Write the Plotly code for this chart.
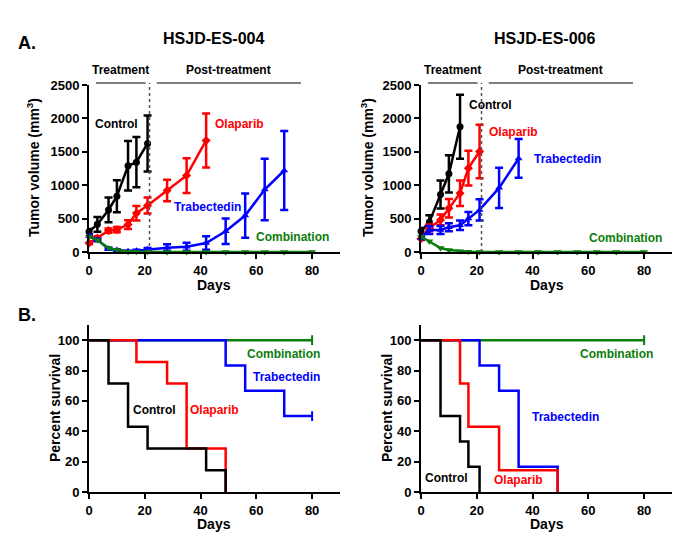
import plotly.graph_objects as go

FONT = "Liberation Sans, Arial, sans-serif"
BLACK = "#000000"
RED = "#ff0000"
BLUE = "#0000ff"
GREEN = "#0b7d0b"

# ---- A. tumor volume, HSJD-ES-004 ----
days_ctrl_004 = [0, 3, 7, 10, 14, 17, 21]
ctrl_004 = [305, 415, 630, 835, 1290, 1345, 1625]
ctrl_004_err = [40, 110, 185, 240, 370, 375, 420]

days_ola_004 = [0, 3, 7, 10, 14, 17, 21, 28, 35, 42]
ola_004 = [135, 210, 320, 335, 410, 580, 695, 920, 1145, 1670]
ola_004_err = [20, 25, 30, 40, 65, 110, 120, 160, 260, 405]

days_tra_004 = [0, 3, 7, 10, 14, 17, 21, 28, 35, 42, 49, 56, 63, 70]
tra_004 = [240, 180, 50, 30, 10, 20, 40, 65, 80, 135, 310, 545, 935, 1220]
tra_004_err = [20, 20, 15, 10, 10, 15, 20, 50, 60, 100, 190, 330, 460, 590]

days_com_004 = [0, 3, 7, 10, 14, 17, 21, 28, 35, 42, 49, 56, 63, 70, 80]
com_004 = [230, 180, 60, 30, 5, 5, 5, 0, 0, 0, 0, 0, 0, 0, 0]

# ---- A. tumor volume, HSJD-ES-006 ----
days_ctrl_006 = [0, 3, 7, 10, 14]
ctrl_006 = [310, 450, 860, 1170, 1875]
ctrl_006_err = [50, 100, 210, 280, 480]

days_ola_006 = [0, 3, 7, 10, 14, 17, 21]
ola_006 = [200, 360, 480, 655, 880, 1255, 1505]
ola_006_err = [20, 50, 80, 140, 190, 260, 400]

days_tra_006 = [0, 3, 7, 10, 14, 17, 21, 28, 35]
tra_006 = [210, 330, 330, 370, 400, 500, 630, 960, 1400]
tra_006_err = [20, 60, 60, 60, 70, 100, 160, 300, 290]

days_com_006 = [0, 3, 7, 10, 14, 17, 21, 28, 35, 42, 49, 56, 63, 70, 80]
com_006 = [230, 160, 60, 30, 10, 5, 0, 0, 0, 0, 0, 0, 0, 0, 0]

# ---- B. survival (Kaplan-Meier steps) ----
surv_ctrl_004_x = [0, 7, 14, 21, 42, 49]
surv_ctrl_004_y = [100, 71.4, 42.9, 28.6, 14.3, 0]
surv_ola_004_x = [0, 17, 28, 35, 49]
surv_ola_004_y = [100, 85.7, 71.4, 28.6, 0]
surv_tra_004_x = [0, 49, 56, 70, 80]
surv_tra_004_y = [100, 83.3, 66.7, 50, 50]
surv_com_004_x = [0, 80]
surv_com_004_y = [100, 100]

surv_ctrl_006_x = [0, 7, 14, 17, 21]
surv_ctrl_006_y = [100, 50, 33.3, 16.7, 0]
surv_ola_006_x = [0, 14, 17, 28, 49]
surv_ola_006_y = [100, 71.4, 42.9, 14.3, 0]
surv_tra_006_x = [0, 21, 28, 35, 49]
surv_tra_006_y = [100, 83.3, 66.7, 16.7, 0]
surv_com_006_x = [0, 80]
surv_com_006_y = [100, 100]

# treatment / post-treatment bars (days)
treat_days = [2.5, 20.3]
post_days = [24.3, 76]
dotted_day = 21.7

W, H = 700, 537
OFF = 8  # the page body adds an 8px margin; shift layout to compensate


def px(x):
    return (x - OFF) / W


def py(y):
    return 1 - (y - OFF) / H


fig = go.Figure()


def growth(x, y, err, color, symbol, xa, ya):
    fig.add_trace(go.Scatter(
        x=x, y=y, mode="lines+markers", xaxis=xa, yaxis=ya,
        line=dict(color=color, width=2.5),
        marker=dict(symbol=symbol, size=7, color=color),
        error_y=dict(type="data", array=err, color=color, thickness=2.5, width=4)
        if err is not None else None,
        cliponaxis=False, showlegend=False,
    ))


def survival(x, y, color, xa, ya, censor=False):
    fig.add_trace(go.Scatter(
        x=x, y=y, mode="lines", line=dict(color=color, width=2.5, shape="hv"),
        xaxis=xa, yaxis=ya, cliponaxis=False, showlegend=False,
    ))
    if censor:
        fig.add_trace(go.Scatter(
            x=[x[-1]], y=[y[-1]], mode="markers", xaxis=xa, yaxis=ya,
            marker=dict(symbol="line-ns", size=7, line=dict(color=color, width=2)),
            cliponaxis=False, showlegend=False,
        ))


growth(days_ctrl_004, ctrl_004, ctrl_004_err, BLACK, "circle", "x", "y")
growth(days_ola_004, ola_004, ola_004_err, RED, "diamond", "x", "y")
growth(days_tra_004, tra_004, tra_004_err, BLUE, "triangle-up", "x", "y")
growth(days_com_004, com_004, None, GREEN, "triangle-down", "x", "y")

growth(days_ctrl_006, ctrl_006, ctrl_006_err, BLACK, "circle", "x2", "y2")
growth(days_ola_006, ola_006, ola_006_err, RED, "diamond", "x2", "y2")
growth(days_tra_006, tra_006, tra_006_err, BLUE, "triangle-up", "x2", "y2")
growth(days_com_006, com_006, None, GREEN, "triangle-down", "x2", "y2")

survival(surv_com_004_x, surv_com_004_y, GREEN, "x3", "y3", censor=True)
survival(surv_tra_004_x, surv_tra_004_y, BLUE, "x3", "y3", censor=True)
survival(surv_ola_004_x, surv_ola_004_y, RED, "x3", "y3")
survival(surv_ctrl_004_x, surv_ctrl_004_y, BLACK, "x3", "y3")

survival(surv_com_006_x, surv_com_006_y, GREEN, "x4", "y4", censor=True)
survival(surv_tra_006_x, surv_tra_006_y, BLUE, "x4", "y4")
survival(surv_ola_006_x, surv_ola_006_y, RED, "x4", "y4")
survival(surv_ctrl_006_x, surv_ctrl_006_y, BLACK, "x4", "y4")

tickfont = dict(family=FONT, size=13, color="black", weight="bold")
xbase = dict(range=[0, 90], tickvals=[0, 20, 40, 60, 80], showgrid=False, zeroline=False,
             showline=True, linecolor="black", linewidth=2, ticks="outside",
             ticklen=5, tickwidth=2, tickcolor="black", tickfont=tickfont,
             automargin=False)
ybase = dict(showgrid=False, zeroline=False, showline=True, linecolor="black",
             linewidth=2, ticks="outside", ticklen=5, tickwidth=2,
             tickcolor="black", tickfont=tickfont, automargin=False)

left = [px(89), px(340)]
right = [px(421), px(672)]
top = [py(252), py(85)]
bottom = [py(492), py(325)]

fig.update_layout(
    width=W, height=H, margin=dict(l=0, r=0, t=0, b=0, pad=0),
    plot_bgcolor="white", paper_bgcolor="white",
    xaxis=dict(xbase, domain=left, anchor="y"),
    yaxis=dict(ybase, domain=top, anchor="x", range=[0, 2500], dtick=500),
    xaxis2=dict(xbase, domain=right, anchor="y2"),
    yaxis2=dict(ybase, domain=top, anchor="x2", range=[0, 2500], dtick=500),
    xaxis3=dict(xbase, domain=left, anchor="y3"),
    yaxis3=dict(ybase, domain=bottom, anchor="x3", range=[0, 110],
                tickvals=[0, 20, 40, 60, 80, 100]),
    xaxis4=dict(xbase, domain=right, anchor="y4"),
    yaxis4=dict(ybase, domain=bottom, anchor="x4", range=[0, 110],
                tickvals=[0, 20, 40, 60, 80, 100]),
)


def day_to_paper(dom, day):
    return dom[0] + day / 90 * (dom[1] - dom[0])


bar_y = py(83)
shapes = []
for dom in (left, right):
    shapes.append(dict(type="line", xref="paper", yref="paper",
                       x0=day_to_paper(dom, dotted_day), x1=day_to_paper(dom, dotted_day),
                       y0=top[0], y1=bar_y,
                       line=dict(color="#555555", width=1.5, dash="dot")))
    for d0, d1 in (treat_days, post_days):
        shapes.append(dict(type="line", xref="paper", yref="paper",
                           x0=day_to_paper(dom, d0), x1=day_to_paper(dom, d1),
                           y0=bar_y, y1=bar_y, line=dict(color="#555555", width=1.5)))
fig.update_layout(shapes=shapes)


def label(text, x, y, color, xa, ya, size=12):
    fig.add_annotation(text=text, x=x, y=y, xref=xa, yref=ya, showarrow=False,
                       xanchor="center", yanchor="middle",
                       font=dict(family=FONT, size=size, color=color, weight="bold"))


def plabel(text, x, y, size=13, angle=0, xanchor="center"):
    fig.add_annotation(text=text, x=px(x), y=py(y), xref="paper", yref="paper",
                       showarrow=False, textangle=angle, xanchor=xanchor, yanchor="middle",
                       font=dict(family=FONT, size=size, color="black", weight="bold"))


for dom in (left, right):
    for text, d0, d1 in (("Treatment", *treat_days), ("Post-treatment", *post_days)):
        fig.add_annotation(text=text, x=day_to_paper(dom, (d0 + d1) / 2), y=py(70),
                           xref="paper", yref="paper", showarrow=False,
                           xanchor="center", yanchor="middle",
                           font=dict(family=FONT, size=12, color="black", weight="bold"))

label("Control", 10, 1916, BLACK, "x", "y")
label("Olaparib", 53.8, 1916, RED, "x", "y")
label("Trabectedin", 42.4, 674, BLUE, "x", "y")
label("Combination", 73, 225, GREEN, "x", "y")

label("Control", 24.9, 2196, BLACK, "x2", "y2")
label("Olaparib", 33.3, 1803, RED, "x2", "y2")
label("Trabectedin", 52.7, 1394, BLUE, "x2", "y2")
label("Combination", 73.4, 209, GREEN, "x2", "y2")

label("Combination", 69.6, 91.2, GREEN, "x3", "y3")
label("Trabectedin", 70.8, 75.9, BLUE, "x3", "y3")
label("Control", 23.4, 54, BLACK, "x3", "y3")
label("Olaparib", 45.1, 54, RED, "x3", "y3")

label("Combination", 70, 91.2, GREEN, "x4", "y4")
label("Trabectedin", 51.9, 49.7, BLUE, "x4", "y4")
label("Control", 9.3, 9.2, BLACK, "x4", "y4")
label("Olaparib", 35.1, 8.1, RED, "x4", "y4")

plabel("A.", 16, 43, size=18, xanchor="left")
plabel("B.", 16, 315, size=18, xanchor="left")
plabel("HSJD-ES-004", 213, 38, size=16)
plabel("HSJD-ES-006", 544, 38, size=16)
plabel("Tumor volume (mm<sup>3</sup>)", 33, 168, size=14, angle=-90)
plabel("Tumor volume (mm<sup>3</sup>)", 367, 168, size=14, angle=-90)
plabel("Percent survival", 55, 408, size=14, angle=-90)
plabel("Percent survival", 387, 408, size=14, angle=-90)
plabel("Days", 214, 285, size=14)
plabel("Days", 547, 285, size=14)
plabel("Days", 214, 524, size=14)
plabel("Days", 547, 524, size=14)

fig.write_html("out.html")
